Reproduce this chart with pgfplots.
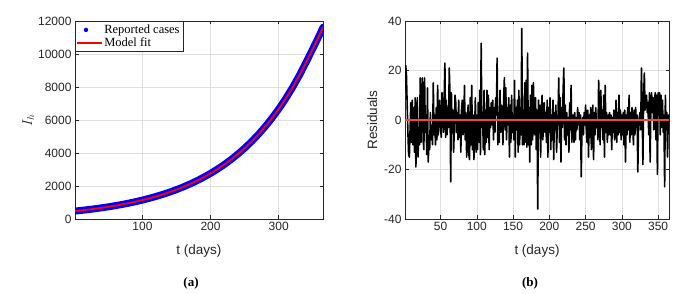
\documentclass[border=0pt]{standalone}
\usepackage{fontspec}
\setmainfont{Liberation Serif}
\setsansfont{Liberation Sans}
\usepackage{pgfplots}
\pgfplotsset{compat=1.18}
\usepackage{pgfplotstable}
\definecolor{axc}{RGB}{38,38,38}
\definecolor{gridc}{RGB}{223,223,223}
\definecolor{zred}{RGB}{240,70,60}

\pgfplotstableread{
t I
1 480
11 524
21 572
31 625
41 683
51 745
61 814
71 889
81 970
91 1060
101 1157
111 1264
121 1380
131 1507
141 1646
151 1797
161 1962
171 2143
181 2340
191 2555
201 2790
211 3047
221 3327
231 3633
241 3967
251 4332
261 4731
271 5166
281 5641
291 6160
301 6727
311 7345
321 8021
331 8759
341 9565
351 10400
361 11250
365 11620
}\curve

\pgfplotstableread[row sep=\\]{
r\\
12\\22\\18\\6\\-5\\-14\\-15\\-4\\7\\-9\\
8\\-10\\5\\-13\\9\\-19\\-6\\9\\-15\\-3\\
-10\\17\\-9\\3\\17\\-8\\-12\\17\\-5\\2\\
-14\\13\\-17\\-9\\-12\\3\\-8\\-3\\-10\\15\\
-6\\2\\-10\\5\\-8\\14\\-6\\2\\8\\-3\\
-7\\11\\4\\-5\\9\\23\\-7\\8\\-6\\5\\
-3\\21\\11\\-25\\11\\-5\\4\\-13\\-4\\10\\
7\\-5\\3\\-8\\8\\-7\\2\\-13\\5\\8\\
-6\\-3\\14\\-8\\3\\-15\\-5\\6\\-14\\-16\\
9\\-10\\14\\-12\\2\\-16\\-4\\9\\-13\\2\\
-12\\7\\-9\\12\\-14\\31\\-3\\2\\-12\\12\\
-14\\4\\-9\\12\\-7\\10\\-12\\5\\-3\\7\\
-2\\8\\-8\\5\\-5\\9\\2\\25\\-10\\3\\
-9\\12\\-5\\6\\3\\-10\\8\\17\\-4\\13\\
-8\\5\\-2\\9\\-15\\6\\-9\\10\\-5\\2\\
-8\\16\\-15\\5\\-4\\8\\-13\\12\\
-10\\5\\-6\\37\\-10\\4\\-10\\15\\-9\\16\\
-11\\27\\-10\\5\\-17\\10\\-10\\14\\-8\\15\\
2\\-6\\9\\-12\\4\\-36\\8\\-4\\6\\-15\\
3\\10\\-8\\-2\\7\\-5\\3\\-9\\8\\-15\\
5\\-5\\9\\-12\\2\\-8\\8\\-16\\3\\-4\\
6\\-13\\-2\\2\\17\\-9\\9\\-17\\5\\-3\\
12\\21\\-8\\6\\-10\\3\\-6\\1\\-13\\7\\
-4\\14\\-9\\-3\\2\\-9\\3\\-8\\1\\-4\\
5\\-2\\3\\-8\\2\\-23\\-3\\1\\-6\\3\\
-2\\6\\-4\\-9\\4\\-15\\2\\-7\\5\\-12\\
-2\\6\\-16\\3\\-6\\5\\-3\\0\\-8\\16\\
5\\-10\\12\\-3\\4\\-8\\10\\-15\\14\\-5\\
3\\-9\\2\\-6\\3\\-6\\2\\-12\\1\\-5\\
4\\-8\\-3\\8\\-9\\3\\-6\\
10\\-5\\4\\-8\\2\\-6\\3\\-10\\4\\-17\\
2\\-6\\5\\-4\\10\\-9\\3\\-6\\5\\-2\\
-10\\4\\-6\\5\\-3\\2\\-21\\-2\\1\\3\\
-4\\21\\4\\-18\\9\\19\\4\\8\\10\\3\\
7\\-6\\11\\-17\\6\\11\\3\\9\\-4\\8\\
11\\-8\\10\\-22\\11\\2\\11\\-6\\10\\-3\\
8\\-5\\2\\-27\\10\\-4\\3\\-15\\2\\-3\\
}\resid

\pgfplotsset{mstyle/.style={
  scale only axis,
  axis line style={axc, line width=0.6pt},
  tick style={axc, line width=0.5pt},
  tick align=inside,
  major tick length=3.5pt,
  grid=major,
  major grid style={gridc, line width=0.5pt},
  ticklabel style={font=\sffamily\fontsize{12}{14}\selectfont, text=axc},
  /pgf/number format/assume math mode=true,
  /pgf/number format/1000 sep={},
  scaled ticks=false,
  label style={font=\sffamily\fontsize{13.5}{15}\selectfont, text=axc},
  xlabel style={yshift=-7pt},
  xmin=1, xmax=365,
}}

\begin{document}
\begin{tikzpicture}[x=1pt,y=1pt]
\useasboundingbox (0,0) rectangle (690,294);
\begin{axis}[mstyle,
  at={(75pt,75pt)}, anchor=south west,
  width=248pt, height=198pt,
  ymin=0, ymax=12000,
  xtick={100,200,300},
  ytick={0,2000,...,12000},
  xlabel={t (days)},
  ylabel={\rmfamily\fontsize{14}{16}\selectfont $I_h$},
  ylabel style={yshift=-3pt},
  legend cell align=left,
  legend style={font=\rmfamily\fontsize{12.5}{14}\selectfont, draw=axc, line width=0.6pt, inner sep=1.5pt, row sep=-1pt, at={(0,1)}, anchor=north west},
]
\addplot[blue, line width=7pt, line cap=round, legend image code/.code={\path[fill=blue, draw=none, line width=0pt] (0.3cm,0cm) circle[radius=2.2pt];}] table[x=t, y=I] {\curve};
\addlegendentry{Reported cases}
\addplot[red, line width=1.8pt, legend image code/.code={\draw[red, line width=1.3pt] (0cm,0cm) -- (0.85cm,0cm);}] table[x=t, y=I] {\curve};
\addlegendentry{Model fit}
\end{axis}
\begin{axis}[mstyle,
  at={(405pt,75pt)}, anchor=south west,
  width=264pt, height=198pt,
  ymin=-40, ymax=40,
  xtick={50,100,...,350},
  ytick={-40,-20,0,20,40},
  xlabel={t (days)},
  ylabel={Residuals},
]
\addplot[black, line width=1.6pt, line join=round] table[x expr=\coordindex+1, y=r] {\resid};
\addplot[zred, line width=2pt] coordinates {(1,0) (365,0)};
\end{axis}
\node[font=\rmfamily\bfseries\fontsize{13}{14}\selectfont] at (191,11) {(a)};
\node[font=\rmfamily\bfseries\fontsize{13}{14}\selectfont] at (530,11) {(b)};
\end{tikzpicture}
\end{document}
